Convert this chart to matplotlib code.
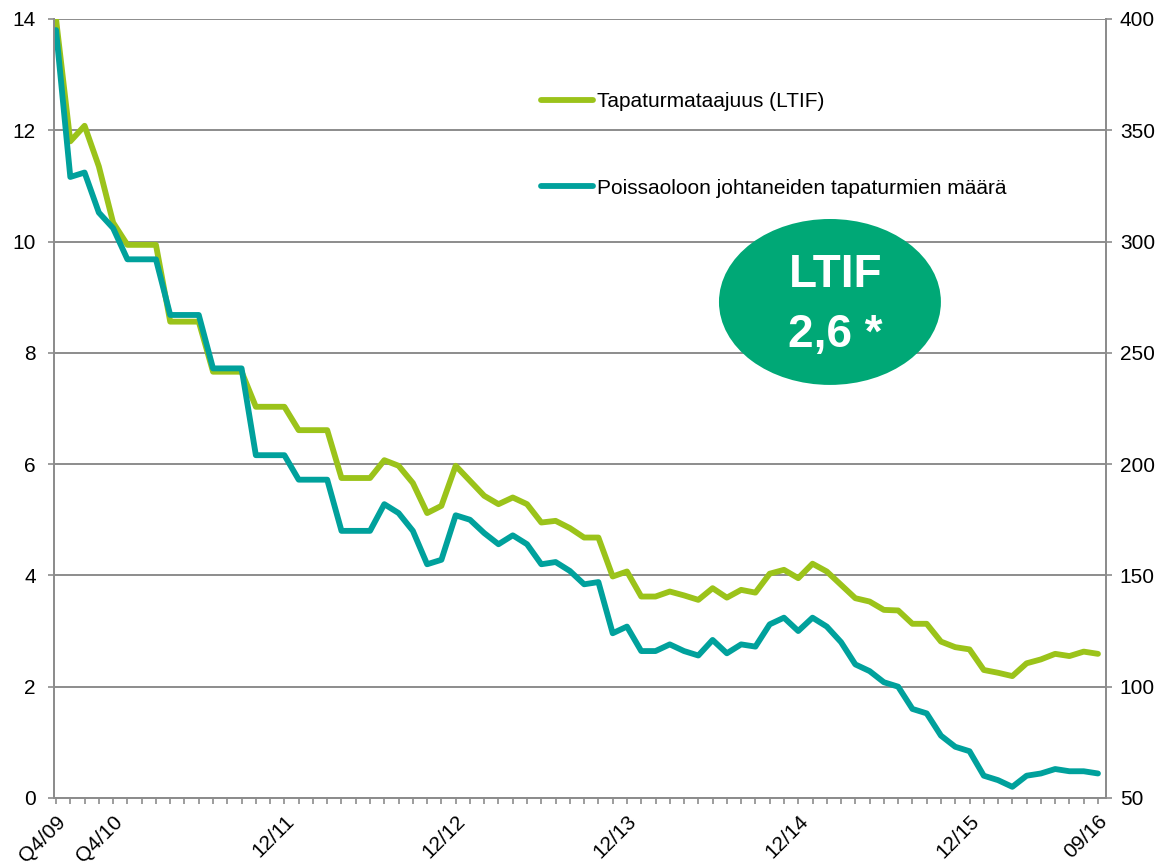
import matplotlib
matplotlib.use("Agg")
import matplotlib.pyplot as plt
from matplotlib.patches import Ellipse

plt.rcParams['font.family'] = ['Liberation Sans', 'DejaVu Sans']

# LTIF (left axis), one value per period
ltif = [14.0, 11.8, 12.08, 11.35, 10.34, 9.94, 9.94, 9.94, 8.56, 8.56,
        8.56, 7.66, 7.66, 7.66, 7.03, 7.03, 7.03, 6.61, 6.61, 6.61,
        5.75, 5.75, 5.75, 6.07, 5.97, 5.66, 5.12, 5.25, 5.97, 5.70,
        5.43, 5.28, 5.40, 5.28, 4.95, 4.98, 4.85, 4.68, 4.68, 3.98,
        4.07, 3.62, 3.62, 3.71, 3.64, 3.56, 3.77, 3.60, 3.74, 3.69,
        4.03, 4.10, 3.95, 4.21, 4.07, 3.83, 3.59, 3.53, 3.38, 3.37,
        3.13, 3.13, 2.81, 2.71, 2.67, 2.30, 2.25, 2.19, 2.42, 2.49,
        2.59, 2.55, 2.63, 2.59]

# lost time accidents (right axis)
accidents = [395, 329, 331, 313, 306, 292, 292, 292, 267, 267,
             267, 243, 243, 243, 204, 204, 204, 193, 193, 193,
             170, 170, 170, 182, 178, 170, 155, 157, 177, 175,
             169, 164, 168, 164, 155, 156, 152, 146, 147, 124,
             127, 116, 116, 119, 116, 114, 121, 115, 119, 118,
             128, 131, 125, 131, 127, 120, 110, 107, 102, 100,
             90, 88, 78, 73, 71, 60, 58, 55, 60, 61,
             63, 62, 62, 61]

label_pos = [0, 4, 16, 28, 40, 52, 64, 73]
label_txt = ['Q4/09', 'Q4/10', '12/11', '12/12', '12/13', '12/14', '12/15', '09/16']

green = '#9BC31A'
teal = '#00A19C'
gray = '#8C8C8C'

fig = plt.figure(figsize=(11.67, 8.65), dpi=100)
ax = fig.add_axes([0.0463, 0.0775, 0.9014, 0.9006])
ax2 = ax.twinx()

x = list(range(len(ltif)))
l1, = ax.plot(x, ltif, color=green, lw=4.2, solid_joinstyle='round',
              solid_capstyle='round', label='Tapaturmataajuus (LTIF)')
l2, = ax2.plot(x, accidents, color=teal, lw=4.2, solid_joinstyle='round',
               solid_capstyle='round', label='Poissaoloon johtaneiden tapaturmien määrä')

ax.set_xlim(-0.14, 73.56)
ax.set_ylim(0, 14)
ax2.set_ylim(50, 400)
ax.set_yticks(range(0, 15, 2))
ax2.set_yticks(range(50, 401, 50))

ax.set_xticks(x)
labels = [''] * len(x)
for p, t in zip(label_pos, label_txt):
    labels[p] = t
ax.set_xticklabels(labels, rotation=45, ha='right', va='top', rotation_mode='anchor')

ax.grid(axis='y', color=gray, lw=1.4)
ax.set_axisbelow(True)

for a in (ax, ax2):
    for s in a.spines.values():
        s.set_color(gray)
        s.set_linewidth(1.3)
    a.spines['top'].set_visible(False)
ax.tick_params(axis='x', colors=gray, length=4, width=1.2, pad=6, labelsize=15, labelcolor='black')
ax.tick_params(axis='y', colors=gray, length=4, width=1.2, pad=9, labelsize=15, labelcolor='black')
ax2.tick_params(axis='y', colors=gray, length=4, width=1.2, pad=6, labelsize=15, labelcolor='black')

ell = Ellipse((0.7376, 0.6367), 0.211, 0.213, transform=ax.transAxes,
              facecolor='#00A876', edgecolor='none', zorder=5)
ax2.add_patch(ell)
ax2.text(0.743, 0.6564, 'LTIF', transform=ax.transAxes, ha='center', va='baseline',
         color='white', fontsize=33, fontweight='bold', zorder=6)
ax2.text(0.743, 0.5793, '2,6 *', transform=ax.transAxes, ha='center', va='baseline',
         color='white', fontsize=33, fontweight='bold', zorder=6)

fig.legend(handles=[l1, l2], loc='upper left', bbox_to_anchor=(0.4636, 0.8936),
           frameon=False, fontsize=15, handlelength=2.5, handletextpad=0.2,
           labelspacing=3.25, borderpad=0, borderaxespad=0)

fig.savefig('out.png', dpi=100)
